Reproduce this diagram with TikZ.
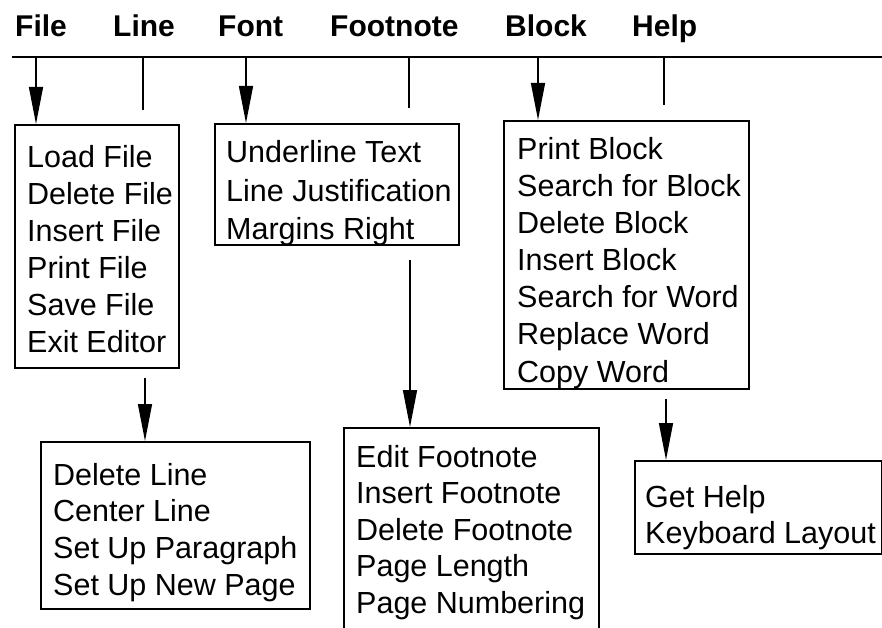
\documentclass[tikz,border=0pt]{standalone}
\usepackage{fontspec}
\setmainfont{Liberation Sans}
\usetikzlibrary{arrows.meta}
\tikzset{
  menubox/.style={draw=black, line width=1.8pt, inner sep=0pt, anchor=north west},
  items/.style={anchor=base west, inner sep=0pt, font=\fontsize{30.5pt}{#1}\selectfont},
  menuhead/.style={anchor=base west, inner sep=0pt, font=\fontsize{30pt}{36pt}\selectfont\bfseries},
  arr/.style={-{Triangle[length=37pt,width=14pt]}, line width=1.4pt},
  stub/.style={line width=1.4pt},
  bar/.style={line width=1.8pt}
}
\begin{document}
\begin{tikzpicture}[x=1pt,y=-1pt]
\fill[white] (0,0) rectangle (882,628);
\useasboundingbox (0,0) rectangle (882,628);
\clip (0,0) rectangle (882,628);

% menu bar
\node[menuhead] (hFile) at (15,37) {File};
\node[menuhead] (hLine) at (113,37) {Line};
\node[menuhead] (hFont) at (218,37) {Font};
\node[menuhead] (hFoot) at (330,37) {Footnote};
\node[menuhead] (hBlock) at (505,37) {Block};
\node[menuhead] (hHelp) at (632,37) {Help};

\coordinate (barL) at (12,57);
\coordinate (barR) at (882,57);
\draw[bar] (barL) -- (barR);

% boxes
\node[menubox, minimum width=164, minimum height=243] (fileBox) at (14,124) {};
\node[menubox, minimum width=244, minimum height=121] (fontBox) at (214,123) {};
\node[menubox, minimum width=245, minimum height=268] (blockBox) at (503,120) {};
\node[menubox, minimum width=269, minimum height=167] (lineBox) at (40,441) {};
\node[menubox, minimum width=255, minimum height=220] (footBox) at (343,427) {};
\node[menubox, minimum width=247, minimum height=93] (helpBox) at (634,460) {};

% box texts
\node[items=36.8pt] (fileText) at (27,168) {\begin{tabular}[t]{@{}l@{}}Load File\\Delete File\\Insert File\\Print File\\Save File\\Exit Editor\end{tabular}};
\node[items=38.5pt] (fontText) at (226,163) {\begin{tabular}[t]{@{}l@{}}Underline Text\\Line Justification\\Margins Right\end{tabular}};
\node[items=37pt] (blockText) at (517,160) {\begin{tabular}[t]{@{}l@{}}Print Block\\Search for Block\\Delete Block\\Insert Block\\Search for Word\\Replace Word\\Copy Word\end{tabular}};
\node[items=36.7pt] (lineText) at (53,485) {\begin{tabular}[t]{@{}l@{}}Delete Line\\Center Line\\Set Up Paragraph\\Set Up New Page\end{tabular}};
\node[items=36.5pt] (footText) at (356,467) {\begin{tabular}[t]{@{}l@{}}Edit Footnote\\Insert Footnote\\Delete Footnote\\Page Length\\Page Numbering\end{tabular}};
\node[items=36.5pt] (helpText) at (645,507) {\begin{tabular}[t]{@{}l@{}}Get Help\\Keyboard Layout\end{tabular}};

% connectors from the bar
\coordinate (cFile) at (36,57);
\draw[arr] (cFile) -- (cFile |- fileBox.north);
\coordinate (cLine) at (143,57);
\coordinate (cLineEnd) at (143,110);
\draw[stub] (cLine) -- (cLineEnd);
\coordinate (cFont) at (246,57);
\draw[arr] (cFont) -- (cFont |- fontBox.north);
\coordinate (cFoot) at (409,57);
\coordinate (cFootEnd) at (409,108);
\draw[stub] (cFoot) -- (cFootEnd);
\coordinate (cBlock) at (538,57);
\draw[arr] (cBlock) -- (cBlock |- blockBox.north);
\coordinate (cHelp) at (664,57);
\coordinate (cHelpEnd) at (664,105);
\draw[stub] (cHelp) -- (cHelpEnd);

% secondary arrows
\coordinate (sLine) at (145,378);
\draw[arr] (sLine) -- (sLine |- lineBox.north);
\coordinate (sFoot) at (410,260);
\draw[arr] (sFoot) -- (sFoot |- footBox.north);
\coordinate (sHelp) at (666,399);
\draw[arr] (sHelp) -- (sHelp |- helpBox.north);
\end{tikzpicture}
\end{document}
